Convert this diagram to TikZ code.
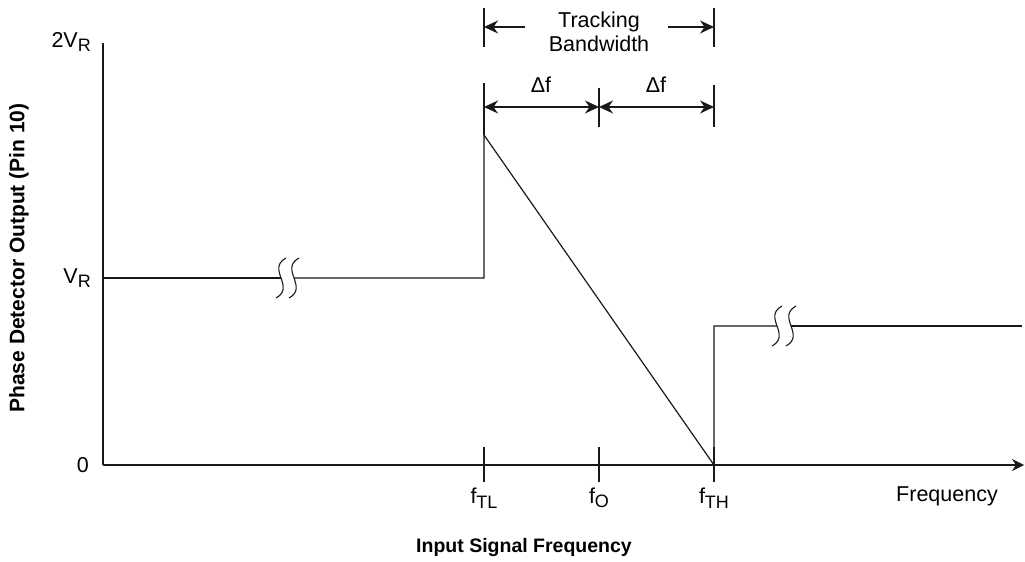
\documentclass[tikz,border=0pt]{standalone}
\usepackage{fontspec}
\setmainfont{Liberation Sans}
\usetikzlibrary{arrows.meta}
\definecolor{lineColor}{RGB}{25, 25, 25}
\definecolor{textColor}{RGB}{0, 0, 0}
\newcommand{\subtxt}[1]{\raisebox{-0.4ex}{\fontsize{18}{18}\selectfont #1}}
\tikzset{
    plot_line/.style={
        line width=1.2pt,
        draw=lineColor
    },
    axis_line/.style={
        plot_line,
        -{Stealth[length=12pt, width=12pt]}
    },
    dim_line/.style={
        plot_line,
        -{Stealth[length=14pt, width=13pt]}
    },
    dim_both/.style={
        plot_line,
        {Stealth[length=14pt, width=13pt]}-{Stealth[length=14pt, width=13pt]}
    },
    break_line/.style={
        line width=1.1pt,
        draw=lineColor
    },
    label_txt/.style={
        font=\fontsize{21.5}{24}\selectfont,
        text=textColor,
        inner sep=0pt
    },
    title_txt/.style={
        font=\bfseries\fontsize{19.5}{23}\selectfont,
        text=textColor,
        inner sep=0pt
    }
}

\begin{document}
\begin{tikzpicture}[x=1pt, y=1pt]
    \useasboundingbox (0,0) rectangle (1025,562);

    \coordinate (org) at (103,97);
    \coordinate (ytop) at (103,519);
    \coordinate (xend) at (1024,97);
    \coordinate (vr_left) at (103,284);
    \coordinate (brk_a) at (281,284);
    \coordinate (brk_b) at (294,284);
    \coordinate (tl_low) at (484,284);
    \coordinate (tl_peak) at (484,427);
    \coordinate (th_zero) at (714,97);
    \coordinate (th_step) at (714,236);
    \coordinate (brk_c) at (777,236);
    \coordinate (brk_d) at (791,236);
    \coordinate (th_right) at (1022,236);

    % axes
    \draw[plot_line] (ytop) -- (org);
    \draw[axis_line] (org) -- (xend);

    % response
    \draw[plot_line] (vr_left) -- (brk_a);
    \draw[plot_line] (brk_b) -- (tl_low) -- (tl_peak) -- (th_zero) -- (th_step) -- (brk_c);
    \draw[plot_line] (brk_d) -- (th_right);
    \foreach \bx/\by in {281/284, 294/284, 777/236, 791/236}
        \draw[break_line] (\bx+5,\by+20) .. controls (\bx-15,\by+9) and (\bx+15,\by-9) .. (\bx-5,\by-20);

    % ticks
    \foreach \tx/\tname in {484/tl, 599/fo, 714/th} {
        \coordinate (tk_\tname_top) at (\tx,115);
        \coordinate (tk_\tname_bot) at (\tx,80);
        \draw[plot_line] (tk_\tname_top) -- (tk_\tname_bot);
    }

    % dimension lines
    \coordinate (ext_l_top) at (484,554);
    \coordinate (ext_l_bot) at (484,515);
    \coordinate (ext_r_top) at (714,554);
    \coordinate (ext_r_bot) at (714,515);
    \coordinate (dl_l_top) at (484,479);
    \coordinate (dl_m_top) at (599,474);
    \coordinate (dl_m_bot) at (599,435);
    \coordinate (dl_r_top) at (714,477);
    \coordinate (dl_r_bot) at (714,435);
    \draw[plot_line] (ext_l_top) -- (ext_l_bot);
    \draw[plot_line] (ext_r_top) -- (ext_r_bot);
    \draw[plot_line] (dl_l_top) -- (tl_peak);
    \draw[plot_line] (dl_m_top) -- (dl_m_bot);
    \draw[plot_line] (dl_r_top) -- (dl_r_bot);

    \coordinate (tb_l_end) at (484,535);
    \coordinate (tb_l_start) at (525,535);
    \coordinate (tb_r_start) at (668,535);
    \coordinate (tb_r_end) at (714,535);
    \draw[dim_line] (tb_l_start) -- (tb_l_end);
    \draw[dim_line] (tb_r_start) -- (tb_r_end);

    \coordinate (df_l) at (484,455);
    \coordinate (df_m) at (599,455);
    \coordinate (df_r) at (714,455);
    \draw[dim_both] (df_l) -- (df_m);
    \draw[dim_both] (df_m) -- (df_r);

    % labels
    \node[label_txt, align=center] (track_lbl) at (599,530) {Tracking\\Bandwidth};
    \node[label_txt] (df_lbl_a) at (541,477) {Δf};
    \node[label_txt] (df_lbl_b) at (656,477) {Δf};

    \node[label_txt, anchor=east] (v2_lbl) at (91,520) {2V\subtxt{R}};
    \node[label_txt, anchor=east] (vr_lbl) at (91,284) {V\subtxt{R}};
    \node[label_txt, anchor=east] (zero_lbl) at (89,97) {0};

    \node[label_txt] (ftl_lbl) at (484,64) {f\subtxt{TL}};
    \node[label_txt] (fo_lbl) at (599,64) {f\subtxt{O}};
    \node[label_txt] (fth_lbl) at (714,64) {f\subtxt{TH}};
    \node[label_txt] (freq_lbl) at (947,66) {Frequency};

    \node[title_txt] (x_title) at (524,14) {Input Signal Frequency};
    \node[title_txt, rotate=90, font=\bfseries\fontsize{21}{23}\selectfont] (y_title) at (19,304) {Phase Detector Output (Pin 10)};
\end{tikzpicture}
\end{document}
